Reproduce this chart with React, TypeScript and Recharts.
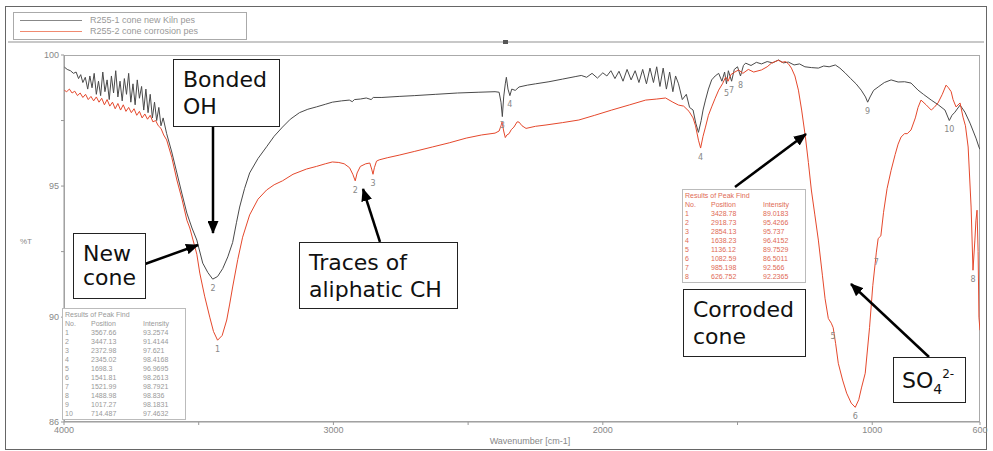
import React from "react";
import { LineChart, Line, XAxis, YAxis, ReferenceDot } from "recharts";

// FTIR spectra, [wavenumber cm-1, %T]
const newConeSpectrum: [number, number][] = [
  [4000, 99.55], [3988, 99.45], [3976, 99.4], [3965, 99.3], [3955, 99.35], [3946, 99.1], [3938, 99.25],
  [3930, 98.95], [3921, 99.15], [3912, 98.7], [3904, 99.2], [3896, 98.75], [3888, 99.3], [3880, 98.5],
  [3872, 99.0], [3864, 98.45], [3856, 99.35], [3848, 98.6], [3840, 99.05], [3832, 98.3], [3824, 99.2],
  [3816, 98.55], [3808, 99.4], [3800, 98.4], [3792, 99.0], [3784, 98.25], [3776, 99.1], [3768, 98.5],
  [3760, 99.3], [3752, 98.2], [3744, 98.9], [3736, 98.1], [3728, 99.05], [3720, 98.35], [3712, 98.8],
  [3704, 97.9], [3696, 98.7], [3688, 97.8], [3680, 98.5], [3672, 97.6], [3664, 98.2], [3656, 97.5],
  [3648, 98.0], [3640, 97.3], [3632, 97.6], [3619, 97.0], [3600, 96.3], [3581, 95.5], [3562, 94.7],
  [3544, 93.97], [3525, 93.4], [3507, 92.94], [3485, 92.06], [3466, 91.7], [3448, 91.45], [3430, 91.55],
  [3411, 91.85], [3392, 92.3], [3374, 92.85], [3360, 93.6], [3348, 94.2], [3330, 94.9], [3311, 95.5],
  [3280, 96.05], [3248, 96.5], [3220, 96.9], [3189, 97.25], [3160, 97.55], [3126, 97.8], [3095, 97.93],
  [3063, 98.02], [3030, 98.12], [3004, 98.2], [2970, 98.25], [2941, 98.28], [2930, 98.22], [2922, 98.3],
  [2900, 98.32], [2878, 98.36], [2860, 98.3], [2852, 98.38], [2820, 98.38], [2756, 98.42], [2700, 98.45],
  [2620, 98.5], [2540, 98.55], [2460, 98.58], [2400, 98.6], [2385, 98.58], [2378, 98.2], [2373, 97.65],
  [2368, 98.4], [2362, 98.9], [2358, 99.15], [2352, 98.7], [2345, 98.45], [2338, 98.7], [2325, 98.65],
  [2311, 98.78], [2280, 98.85], [2250, 98.9], [2200, 98.98], [2150, 99.08], [2100, 99.18], [2080, 99.22],
  [2060, 99.15], [2040, 99.3], [2020, 99.12], [2000, 99.32], [1985, 99.2], [1970, 99.4], [1955, 99.1],
  [1940, 99.38], [1925, 99.0], [1910, 99.45], [1895, 99.05], [1880, 99.4], [1866, 98.95], [1852, 99.45],
  [1838, 98.9], [1825, 99.5], [1812, 98.95], [1800, 99.55], [1788, 98.8], [1776, 99.5], [1764, 98.7],
  [1752, 99.35], [1740, 98.6], [1730, 99.2], [1719, 98.9], [1705, 98.3], [1690, 98.5], [1678, 98.0],
  [1665, 97.9], [1655, 97.4], [1645, 97.05], [1635, 97.5], [1628, 97.9], [1619, 98.28], [1608, 98.7],
  [1596, 99.05], [1583, 99.2], [1570, 99.3], [1558, 99.0], [1548, 99.35], [1541, 98.9], [1534, 99.4],
  [1522, 99.0], [1512, 99.45], [1500, 99.55], [1489, 99.2], [1478, 99.6], [1470, 99.69], [1450, 99.6],
  [1430, 99.72], [1411, 99.66], [1390, 99.75], [1370, 99.7], [1348, 99.81], [1330, 99.7], [1311, 99.73],
  [1290, 99.62], [1270, 99.66], [1250, 99.55], [1226, 99.52], [1200, 99.5], [1180, 99.58], [1160, 99.55],
  [1137, 99.62], [1120, 99.5], [1100, 99.31], [1080, 99.1], [1060, 98.9], [1041, 98.66], [1025, 98.4],
  [1017, 98.2], [1008, 98.4], [995, 98.65], [978, 98.78], [955, 98.95], [930, 99.05], [904, 98.97],
  [880, 98.98], [856, 98.93], [830, 98.66], [810, 98.5], [781, 98.28], [755, 98.1], [730, 97.9],
  [714, 97.5], [704, 97.7], [693, 97.82], [674, 98.09], [656, 97.82], [637, 97.4], [615, 96.83],
  [604, 96.49], [600, 96.4],
];

const corrodedSpectrum: [number, number][] = [
  [4000, 98.66], [3990, 98.6], [3980, 98.7], [3970, 98.55], [3960, 98.62], [3950, 98.45], [3940, 98.55],
  [3930, 98.38], [3920, 98.5], [3910, 98.3], [3900, 98.42], [3890, 98.25], [3880, 98.4], [3870, 98.2],
  [3860, 98.35], [3850, 98.1], [3840, 98.3], [3830, 98.05], [3820, 98.2], [3810, 97.95], [3800, 98.15],
  [3790, 97.9], [3780, 98.1], [3770, 97.85], [3760, 98.0], [3750, 97.8], [3740, 97.95], [3730, 97.7],
  [3720, 97.85], [3710, 97.6], [3700, 97.75], [3690, 97.55], [3680, 97.7], [3670, 97.45], [3660, 97.5],
  [3650, 97.3], [3640, 97.2], [3630, 96.95], [3619, 96.76], [3600, 96.1], [3581, 95.23], [3562, 94.5],
  [3544, 93.7], [3533, 93.4], [3507, 92.4], [3496, 91.68], [3478, 90.8], [3459, 90.0], [3445, 89.45],
  [3430, 89.12], [3413, 89.3], [3396, 89.89], [3385, 90.5], [3374, 91.15], [3355, 92.2], [3337, 93.05],
  [3311, 93.9], [3280, 94.5], [3248, 94.85], [3220, 95.05], [3189, 95.2], [3150, 95.45], [3100, 95.65],
  [3063, 95.75], [3030, 95.85], [3004, 95.92], [2980, 95.9], [2960, 95.85], [2940, 95.7], [2928, 95.45],
  [2919, 95.2], [2912, 95.5], [2900, 95.75], [2880, 95.85], [2865, 95.88], [2858, 95.65], [2853, 95.45],
  [2848, 95.7], [2840, 95.95], [2830, 96.0], [2800, 96.08], [2756, 96.18], [2700, 96.32], [2633, 96.49],
  [2570, 96.65], [2507, 96.83], [2450, 96.95], [2400, 97.02], [2385, 97.1], [2378, 97.3], [2374, 97.44],
  [2368, 97.1], [2362, 96.85], [2356, 96.95], [2348, 97.0], [2340, 97.15], [2330, 97.25], [2318, 97.45],
  [2311, 97.44], [2300, 97.3], [2285, 97.2], [2250, 97.28], [2211, 97.33], [2150, 97.42], [2089, 97.52],
  [2030, 97.7], [1967, 97.9], [1900, 98.1], [1841, 98.28], [1800, 98.32], [1767, 98.36], [1740, 98.2],
  [1719, 98.09], [1700, 98.05], [1680, 97.85], [1665, 97.6], [1656, 97.3], [1645, 96.75], [1637, 96.45],
  [1628, 96.9], [1619, 97.25], [1608, 97.7], [1596, 98.02], [1583, 98.35], [1570, 98.66], [1556, 98.9],
  [1544, 99.16], [1535, 99.0], [1525, 99.25], [1510, 99.35], [1496, 99.43], [1480, 99.3], [1460, 99.45],
  [1440, 99.35], [1411, 99.43], [1390, 99.55], [1374, 99.69], [1360, 99.75], [1348, 99.8], [1335, 99.72],
  [1322, 99.75], [1310, 99.65], [1300, 99.5], [1287, 99.2], [1274, 98.66], [1262, 97.9], [1248, 96.87],
  [1237, 95.9], [1226, 94.85], [1213, 93.9], [1200, 92.94], [1185, 91.6], [1175, 90.7], [1163, 89.95],
  [1152, 89.77], [1145, 89.6], [1136, 89.0], [1126, 88.24], [1110, 87.6], [1095, 87.1], [1078, 86.72],
  [1063, 86.56], [1050, 86.85], [1040, 87.3], [1026, 87.86], [1010, 89.6], [998, 91.2], [989, 92.06],
  [985, 92.45], [978, 93.0], [968, 93.1], [958, 94.0], [945, 94.9], [930, 95.6], [915, 96.2], [904, 96.6],
  [893, 96.87], [880, 97.0], [870, 97.0], [856, 97.14], [840, 97.6], [830, 98.0], [819, 98.28], [800, 98.1],
  [781, 97.9], [770, 98.0], [756, 98.17], [740, 98.5], [726, 98.85], [717, 98.75], [707, 98.6], [700, 98.3],
  [689, 98.02], [674, 98.17], [663, 97.63], [654, 97.3], [644, 96.49], [633, 94.2], [626, 91.79],
  [619, 92.94], [615, 93.7], [611, 94.08], [607, 92.5], [604, 90.0], [600, 89.5],
];

// peak-pick markers [wavenumber, %T, number]
const newConePeaks: [number, number, string][] = [
  [3447, 91.45, "2"], [2373, 97.65, "3"], [2345, 98.45, "4"], [1541, 98.9, "5"],
  [1522, 99.0, "7"], [1489, 99.2, "8"], [1017, 98.2, "9"], [714, 97.5, "10"],
];
const corrodedPeaks: [number, number, string][] = [
  [3430, 89.12, "1"], [2919, 95.2, "2"], [2853, 95.45, "3"], [1637, 96.45, "4"],
  [1145, 89.6, "5"], [1063, 86.56, "6"], [985, 92.45, "7"], [626, 91.79, "8"],
];

const newConeTable = [
  ["1", "3567.66", "93.2574"], ["2", "3447.13", "91.4144"], ["3", "2372.98", "97.621"],
  ["4", "2345.02", "98.4168"], ["5", "1698.3", "96.9695"], ["6", "1541.81", "98.2613"],
  ["7", "1521.99", "98.7921"], ["8", "1488.98", "98.836"], ["9", "1017.27", "98.1831"],
  ["10", "714.487", "97.4632"],
];
const corrodedTable = [
  ["1", "3428.78", "89.0183"], ["2", "2918.73", "95.4266"], ["3", "2854.13", "95.737"],
  ["4", "1638.23", "96.4152"], ["5", "1136.12", "89.7529"], ["6", "1082.59", "86.5011"],
  ["7", "985.198", "92.566"], ["8", "626.752", "92.2365"],
];

const xTicks = [4000, 3500, 3000, 2500, 2000, 1500, 1000, 600];
const xTickLabels = [4000, 3000, 2000, 1000, 600];
const yTicks = [86, 90, 92.5, 95, 97.5, 100];
const yTickLabels = [86, 90, 95, 100];

const seriesNames = ["R255-1 cone new Kiln pes", "R255-2 cone corrosion pes"];
const NEW_COLOR = "#4a4a4a";
const CORRODED_COLOR = "#e5482c";

const toRows = (pts: [number, number][]) => pts.map(([wn, t]) => ({ wn, t }));

function PeakTable({ rows, left, top, width, color }: { rows: string[][]; left: number; top: number; width: number; color: string }) {
  const line: React.CSSProperties = { display: "flex", height: 9, lineHeight: "9px" };
  return (
    <div style={{ position: "absolute", left, top, width, border: "1px solid #bbb", background: "#fff", color, fontSize: 7, fontFamily: "Liberation Sans, Arial, sans-serif", padding: "1px 2px" }}>
      <div style={line}>Results of Peak Find</div>
      <div style={line}><span style={{ width: 26 }}>No.</span><span style={{ width: 52 }}>Position</span><span>Intensity</span></div>
      {rows.map((r) => (
        <div key={r[0]} style={line}>
          <span style={{ width: 26 }}>{r[0]}</span><span style={{ width: 52 }}>{r[1]}</span><span>{r[2]}</span>
        </div>
      ))}
    </div>
  );
}

const boxes = [
  { x: 173, y: 59, w: 106, h: 67, lines: ["Bonded", "OH"], lh: 27 },
  { x: 73, y: 233, w: 72, h: 65, lines: ["New", "cone"], lh: 24 },
  { x: 299, y: 242, w: 158, h: 66, lines: ["Traces of", "aliphatic CH"], lh: 27 },
  { x: 683, y: 289, w: 122, h: 67, lines: ["Corroded", "cone"], lh: 27 },
];
const arrows = [
  [213, 127, 213, 233],
  [145, 264, 198, 245],
  [380, 242, 363, 189],
  [735, 187, 806, 134],
  [929, 357, 851, 284],
];

export default function App() {
  const axisTick = { fontSize: 9, fill: "#888", fontFamily: "Liberation Sans, Arial, sans-serif" };
  return (
    <div style={{ position: "absolute", left: 0, top: 0, width: 993, height: 451, background: "#fff", fontFamily: "DejaVu Sans, sans-serif" }}>
      <div style={{ position: "absolute", left: 5, top: 6, width: 980, height: 442, border: "1px solid #666" }} />
      <div style={{ position: "absolute", left: 8, top: 41, width: 976, height: 2, background: "#c8c8c8" }} />
      <div style={{ position: "absolute", left: 503, top: 40, width: 5, height: 4, background: "#555" }} />
      <div style={{ position: "absolute", left: 13, top: 12, width: 232, height: 26, border: "1px solid #aaa", fontSize: 9, color: "#999", fontFamily: "Liberation Sans, Arial, sans-serif" }}>
        {seriesNames.map((n, i) => (
          <div key={n} style={{ position: "absolute", left: 6, top: 2 + i * 11, display: "flex", alignItems: "center", height: 10 }}>
            <div style={{ width: 62, height: 1, background: i === 0 ? "#888" : "#f08a70", marginRight: 8 }} />
            <span>{n}</span>
          </div>
        ))}
      </div>
      <div style={{ position: "absolute", left: 64, top: 55, width: 916, height: 367, border: "1px solid #aaa", boxSizing: "border-box" }} />
      <LineChart width={993} height={451} margin={{ top: 55, right: 13, bottom: 0, left: 0 }} style={{ position: "absolute", left: 0, top: 0 }}>
        <XAxis
          type="number"
          dataKey="wn"
          domain={[600, 4000]}
          reversed
          allowDataOverflow
          ticks={xTicks}
          interval={0}
          height={29}
          tickSize={3}
          stroke="#999"
          tick={axisTick}
          tickFormatter={(v: number) => (xTickLabels.includes(v) ? String(v) : "")}
        />
        <YAxis
          type="number"
          domain={[86, 100]}
          allowDataOverflow
          ticks={yTicks}
          interval={0}
          width={64}
          tickSize={3}
          stroke="#999"
          tick={axisTick}
          tickFormatter={(v: number) => (yTickLabels.includes(v) ? String(v) : "")}
        />
        <Line data={toRows(newConeSpectrum)} dataKey="t" type="linear" stroke={NEW_COLOR} strokeWidth={1} dot={false} isAnimationActive={false} />
        <Line data={toRows(corrodedSpectrum)} dataKey="t" type="linear" stroke={CORRODED_COLOR} strokeWidth={1} dot={false} isAnimationActive={false} />
        {newConePeaks.map(([wn, t, n]) => (
          <ReferenceDot key={"n" + n} x={wn} y={t} r={0} stroke="none" label={{ value: n, position: "bottom", fontSize: 8, fill: "#888", offset: 6 }} />
        ))}
        {corrodedPeaks.map(([wn, t, n]) => (
          <ReferenceDot key={"c" + n} x={wn} y={t} r={0} stroke="none" label={{ value: n, position: "bottom", fontSize: 8, fill: "#888", offset: 6 }} />
        ))}
      </LineChart>
      <PeakTable rows={newConeTable} left={62} top={308} width={118} color="#999" />
      <PeakTable rows={corrodedTable} left={682} top={189} width={118} color="#e06a55" />
      <svg width={993} height={451} style={{ position: "absolute", left: 0, top: 0, pointerEvents: "none" }}>
        <defs>
          <marker id="ah" markerWidth="13" markerHeight="11" refX="12" refY="5.5" orient="auto" markerUnits="userSpaceOnUse">
            <path d="M0,0 L13,5.5 L0,11 z" fill="#000" />
          </marker>
        </defs>
        <text x={20} y={244} fontSize={8} fill="#888" fontFamily="Liberation Sans, Arial, sans-serif">%T</text>
        <text x={530} y={444} fontSize={9} fill="#888" textAnchor="middle" fontFamily="Liberation Sans, Arial, sans-serif">Wavenumber [cm-1]</text>
        {arrows.map(([x1, y1, x2, y2], i) => (
          <line key={i} x1={x1} y1={y1} x2={x2} y2={y2} stroke="#000" strokeWidth={2.5} markerEnd="url(#ah)" />
        ))}
        {boxes.map((b) => (
          <g key={b.lines[0]}>
            <rect x={b.x + 0.5} y={b.y + 0.5} width={b.w} height={b.h} fill="#fff" stroke="#222" strokeWidth={1} />
            {b.lines.map((l, i) => (
              <text key={l} x={b.x + 10} y={b.y + 28 + i * b.lh} fontSize={22} fill="#111" fontFamily="DejaVu Sans, sans-serif">{l}</text>
            ))}
          </g>
        ))}
        <rect x={893.5} y={357.5} width={72} height={45} fill="#fff" stroke="#222" strokeWidth={1} />
        <text x={902} y={388} fontSize={22} fill="#111" fontFamily="DejaVu Sans, sans-serif">
          SO<tspan fontSize={14} dy={6}>4</tspan><tspan fontSize={12} dy={-16}>2-</tspan>
        </text>
      </svg>
    </div>
  );
}
